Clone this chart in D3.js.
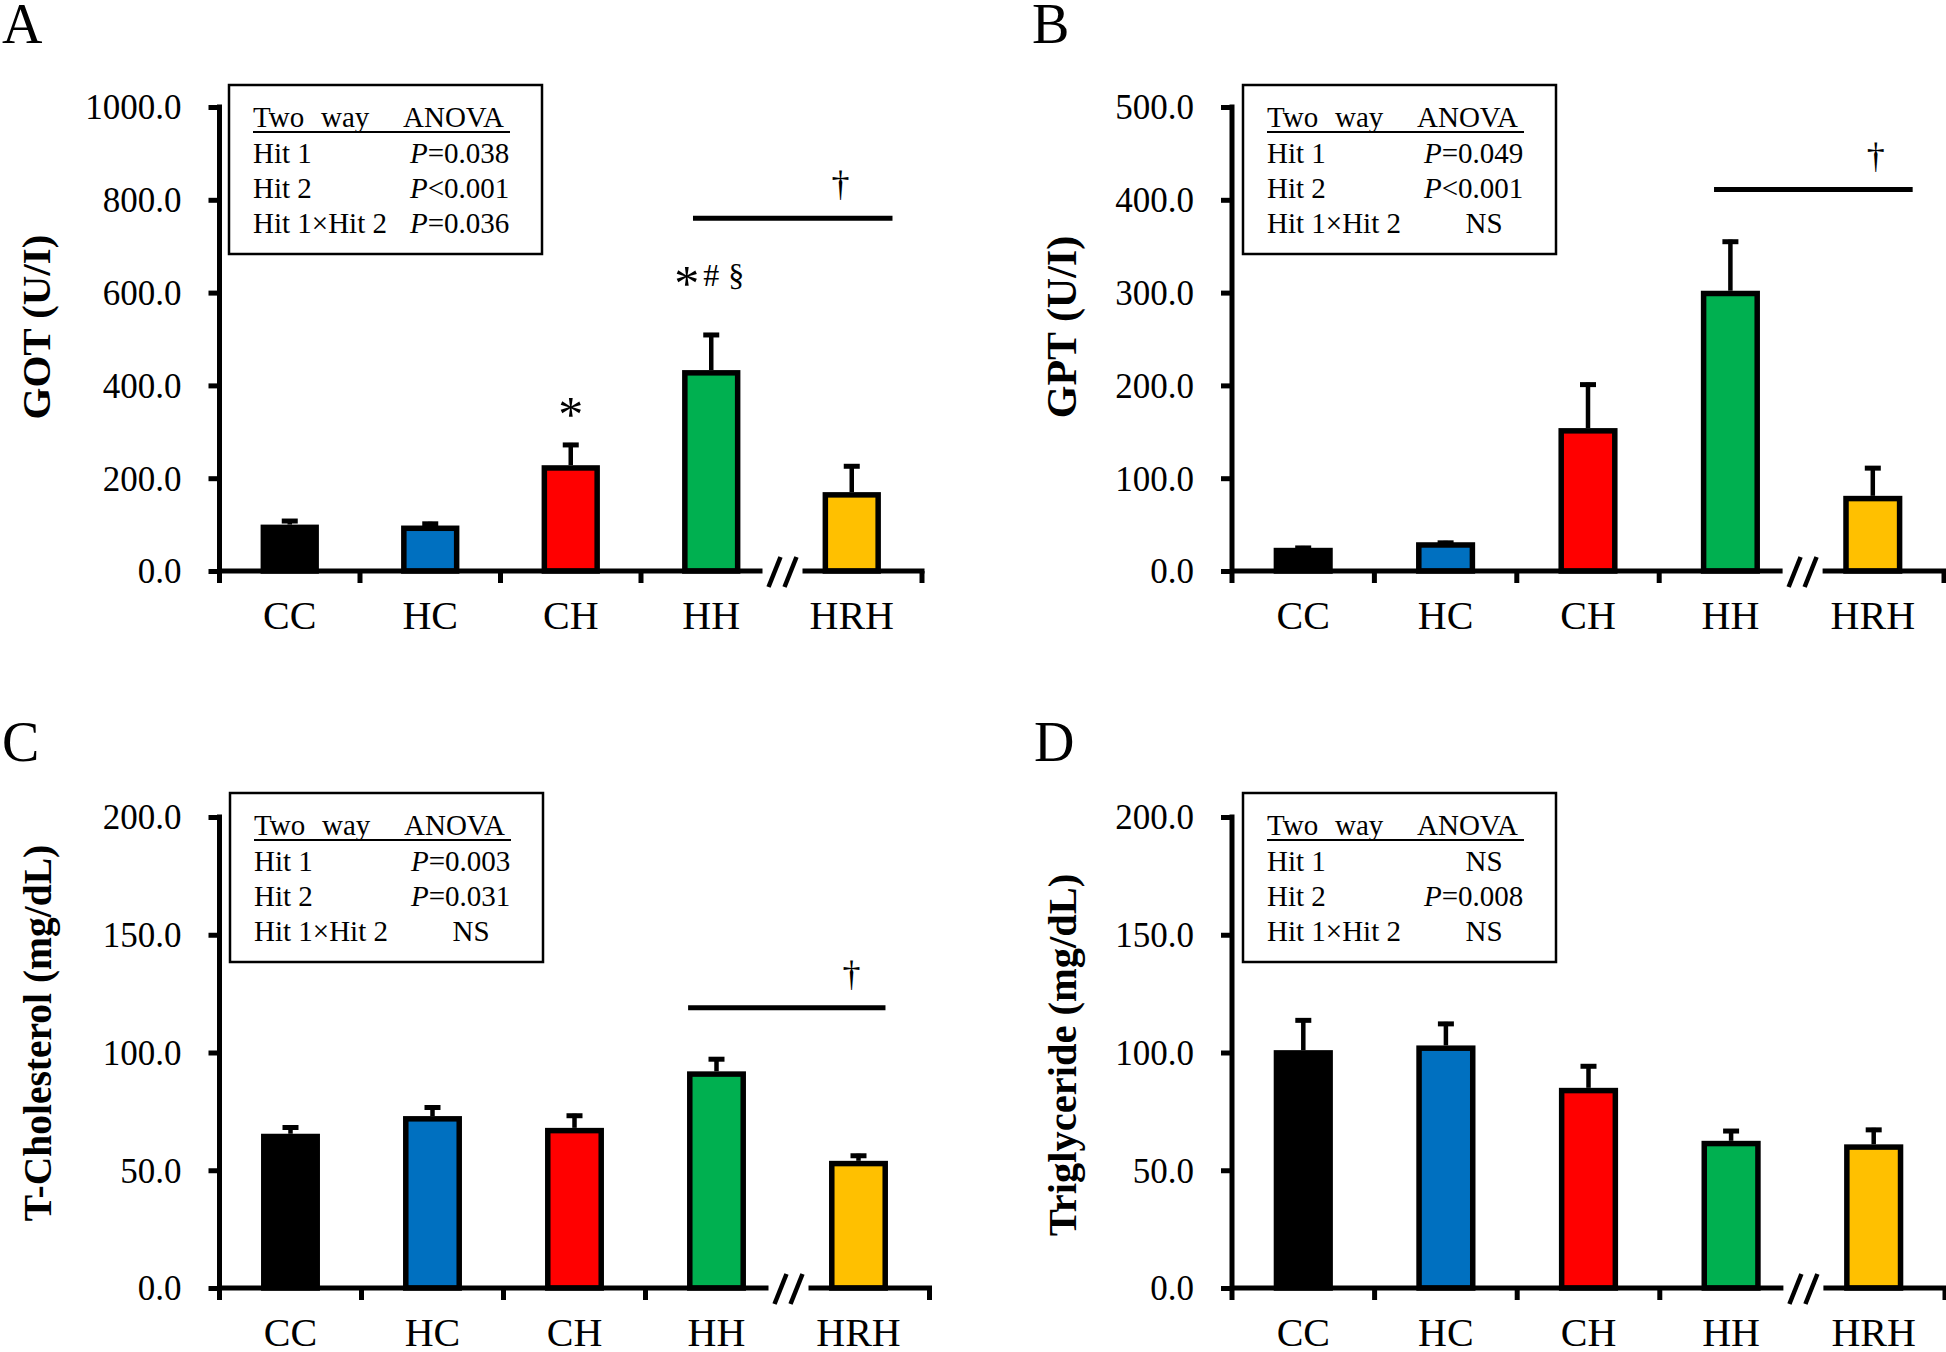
<!DOCTYPE html>
<html><head><meta charset="utf-8">
<script src="https://cdn.jsdelivr.net/npm/d3@7"></script>
<style>
body{margin:0;background:#fff;}
svg{display:block;}
text{font-family:"Liberation Serif","Times New Roman",serif;fill:#000;}
</style></head><body>
<svg id="chart" width="1946" height="1352"></svg>
<script>
// ---------- data ----------
const categories = ["CC", "HC", "CH", "HH", "HRH"];
const barColors = ["#000000", "#0070C0", "#FF0000", "#00B050", "#FFC000"];

const gotMean = [100, 98, 228, 433, 170];
const gotErr  = [12, 8, 48, 80, 60];
const gptMean = [25, 31, 154, 302, 81];
const gptErr  = [2, 1.5, 49, 55, 32];
const tcMean  = [65.5, 73, 68, 92, 54];
const tcErr   = [3.5, 4.5, 6, 6, 3];
const tgMean  = [101, 103, 85, 62.5, 61];
const tgErr   = [13.5, 10, 10, 5, 7];

const gotTicks = [0, 200, 400, 600, 800, 1000];
const gptTicks = [0, 100, 200, 300, 400, 500];
const tcTicks  = [0, 50, 100, 150, 200];
const tgTicks  = [0, 50, 100, 150, 200];

const anovaHeader = ["Two", "way", "ANOVA"];
const anovaRows = ["Hit 1", "Hit 2", "Hit 1\u00d7Hit 2"];
const gotAnova = ["P=0.038", "P<0.001", "P=0.036"];
const gptAnova = ["P=0.049", "P<0.001", "NS"];
const tcAnova  = ["P=0.003", "P=0.031", "NS"];
const tgAnova  = ["NS", "P=0.008", "NS"];

const gotMarks = ["", "", "*", "*#\u00a7", ""];
const gptMarks = ["", "", "", "", ""];
const tcMarks  = ["", "", "", "", ""];
const tgMarks  = ["", "", "", "", ""];

// significance bar (HH vs HRH) value level, null if none
const gotSigLevel = 760;
const gptSigLevel = 411;
const tcSigLevel  = 119;
const tgSigLevel  = null;

// ---------- drawing ----------
const svg = d3.select("#chart");
svg.append("rect").attr("width", 1946).attr("height", 1352).attr("fill", "#fff");

function drawPanel(p) {
  const g = svg.append("g");
  const x = d3.scaleBand().domain(categories).range([p.x0, p.x1]).padding(0);
  const y = d3.scaleLinear().domain([0, p.yMax]).range([p.y0, p.yTop]);
  const step = x.step();
  const bw = step * 0.415;
  const sw = 5.5;
  const cx = c => x(c) + step / 2;

  const data = categories.map((c, i) => ({c, m: p.mean[i], e: p.err[i], col: barColors[i], mark: p.marks[i]}));

  // error bars
  g.selectAll("line.err").data(data).join("line")
    .attr("x1", d => cx(d.c)).attr("x2", d => cx(d.c))
    .attr("y1", d => y(d.m)).attr("y2", d => y(d.m + d.e))
    .attr("stroke", "#000").attr("stroke-width", 4.5);
  g.selectAll("line.cap").data(data).join("line")
    .attr("x1", d => cx(d.c) - 8).attr("x2", d => cx(d.c) + 8)
    .attr("y1", d => y(d.m + d.e) + 2).attr("y2", d => y(d.m + d.e) + 2)
    .attr("stroke", "#000").attr("stroke-width", 5);

  // bars
  g.selectAll("rect.bar").data(data).join("rect")
    .attr("x", d => cx(d.c) - bw / 2 + sw / 2)
    .attr("width", bw - sw)
    .attr("y", d => y(d.m) + sw / 2)
    .attr("height", d => p.y0 - y(d.m) - sw / 2)
    .attr("fill", d => d.col)
    .attr("stroke", "#000").attr("stroke-width", sw);

  // y axis
  const ya = d3.axisLeft(y).tickValues(p.ticks).tickFormat(d3.format(".1f"))
    .tickSize(11).tickPadding(27).tickSizeOuter(0);
  const ag = g.append("g").attr("transform", `translate(${p.x0},0)`).call(ya)
    .attr("font-family", "Liberation Serif, Times New Roman, serif").attr("font-size", 35).attr("color", "#000");
  ag.select(".domain").remove();
  ag.selectAll(".tick line").attr("stroke-width", 5);
  ag.selectAll(".tick text").attr("dy", "0.34em");
  g.append("line").attr("x1", p.x0).attr("x2", p.x0)
    .attr("y1", p.yTop - 2.5).attr("y2", p.y0 + 12)
    .attr("stroke", "#000").attr("stroke-width", 5);

  // x axis with break between HH and HRH
  const brk = x("HRH");
  const segs = [[p.x0, brk - 19], [brk + 21, p.x1 + 2.5]];
  g.selectAll("line.xseg").data(segs).join("line")
    .attr("x1", d => d[0]).attr("x2", d => d[1])
    .attr("y1", p.y0).attr("y2", p.y0)
    .attr("stroke", "#000").attr("stroke-width", 5);
  const xt = [x("HC"), x("CH"), x("HH"), p.x1];
  g.selectAll("line.xt").data(xt).join("line")
    .attr("x1", d => d).attr("x2", d => d)
    .attr("y1", p.y0).attr("y2", p.y0 + 12)
    .attr("stroke", "#000").attr("stroke-width", 5);
  g.selectAll("line.slash").data([0, 1]).join("line")
    .attr("x1", i => brk - 13 + 16 * i).attr("x2", i => brk - 1 + 16 * i)
    .attr("y1", p.y0 + 16).attr("y2", p.y0 - 14)
    .attr("stroke", "#000").attr("stroke-width", 4.5);

  // category labels
  const xa = d3.axisBottom(x).tickSize(0).tickPadding(30);
  const xg = g.append("g").attr("transform", `translate(0,${p.y0})`).call(xa)
    .attr("font-family", "Liberation Serif, Times New Roman, serif").attr("font-size", 40).attr("color", "#000");
  xg.select(".domain").remove();

  // y title
  g.append("text")
    .attr("transform", `translate(${p.titleX},${p.titleY}) rotate(-90)`)
    .attr("text-anchor", "middle").attr("font-weight", "bold").attr("font-size", p.titleSize)
    .text(p.title);

  // ANOVA box
  const bx = p.x0 + p.boxDx, by = p.yTop + p.boxDy;
  const box = g.append("g").attr("transform", `translate(${bx},${by})`);
  box.append("rect").attr("width", 313).attr("height", 169)
    .attr("fill", "#fff").attr("stroke", "#000").attr("stroke-width", 2.5);
  const hdrX = [24, 92, 174];
  box.selectAll("text.hdr").data(anovaHeader).join("text")
    .attr("x", (d, i) => hdrX[i]).attr("y", 42).attr("font-size", 29).text(d => d);
  box.append("line").attr("x1", 24).attr("x2", 281).attr("y1", 47).attr("y2", 47)
    .attr("stroke", "#000").attr("stroke-width", 2);
  const rowY = [77.5, 112.5, 147.5];
  box.selectAll("text.row").data(anovaRows).join("text")
    .attr("x", 24).attr("y", (d, i) => rowY[i]).attr("font-size", 29).text(d => d);
  p.anova.forEach((v, i) => {
    const t = box.append("text").attr("y", rowY[i]).attr("font-size", 29);
    if (v === "NS") {
      t.attr("x", 241).attr("text-anchor", "middle").text(v);
    } else {
      t.attr("x", 181);
      t.append("tspan").attr("font-style", "italic").text(v[0]);
      t.append("tspan").text(v.slice(1));
    }
  });

  // significance line HH vs HRH
  if (p.sigLevel !== null) {
    const sx1 = cx("HH") + p.sigFrom * step, sx2 = cx("HRH") + p.sigTo * step;
    const sy = y(p.sigLevel);
    g.append("line").attr("x1", sx1).attr("x2", sx2).attr("y1", sy).attr("y2", sy)
      .attr("stroke", "#000").attr("stroke-width", 5);
    g.append("text").attr("x", sx2 - p.daggerBack * step).attr("y", sy - 22)
      .attr("text-anchor", "middle").attr("font-size", 36).text("\u2020");
  }

  // significance marks above bars
  data.filter(d => d.mark).forEach(d => {
    const top = y(d.m + d.e);
    const chars = Array.from(d.mark);
    if (chars.length === 1) {
      g.append("text").attr("x", cx(d.c)).attr("y", top - 12).attr("text-anchor", "middle")
        .attr("font-size", 50).text(chars[0]);
    } else {
      const offs = [-24.5, 0, 25];
      chars.forEach((ch, k) => {
        const big = ch === "*";
        g.append("text").attr("x", cx(d.c) + offs[k])
          .attr("y", big ? top - 33 : top - 47)
          .attr("text-anchor", "middle").attr("font-size", big ? 50 : 32).text(ch);
      });
    }
  });

  // panel letter
  svg.append("text").attr("x", p.lx).attr("y", p.ly).attr("font-size", 56).text(p.letter);
}

drawPanel({letter: "A", lx: 2, ly: 43, x0: 219.5, x1: 922, y0: 571, yTop: 107, yMax: 1000,
  ticks: gotTicks, mean: gotMean, err: gotErr, marks: gotMarks, anova: gotAnova,
  title: "GOT (U/I)", titleSize: 41, titleX: 50, titleY: 327, boxDx: 9.5, boxDy: -22,
  sigLevel: gotSigLevel, sigFrom: -0.13, sigTo: 0.29, daggerBack: 0.37});
drawPanel({letter: "B", lx: 1032, ly: 43, x0: 1232, x1: 1944, y0: 571, yTop: 107, yMax: 500,
  ticks: gptTicks, mean: gptMean, err: gptErr, marks: gptMarks, anova: gptAnova,
  title: "GPT (U/I)", titleSize: 42, titleX: 1076, titleY: 327, boxDx: 11, boxDy: -22,
  sigLevel: gptSigLevel, sigFrom: -0.115, sigTo: 0.28, daggerBack: 0.26});
drawPanel({letter: "C", lx: 2, ly: 761, x0: 219.5, x1: 929.5, y0: 1288, yTop: 817, yMax: 200,
  ticks: tcTicks, mean: tcMean, err: tcErr, marks: tcMarks, anova: tcAnova,
  title: "T-Cholesterol (mg/dL)", titleSize: 39.5, titleX: 51, titleY: 1033, boxDx: 10.5, boxDy: -24,
  sigLevel: tcSigLevel, sigFrom: -0.2, sigTo: 0.19, daggerBack: 0.24});
drawPanel({letter: "D", lx: 1034, ly: 761, x0: 1232, x1: 1945, y0: 1288, yTop: 817, yMax: 200,
  ticks: tgTicks, mean: tgMean, err: tgErr, marks: tgMarks, anova: tgAnova,
  title: "Triglyceride (mg/dL)", titleSize: 40.5, titleX: 1076, titleY: 1055, boxDx: 11, boxDy: -24,
  sigLevel: tgSigLevel, sigFrom: 0, sigTo: 0, daggerBack: 0});
</script>
</body></html>
